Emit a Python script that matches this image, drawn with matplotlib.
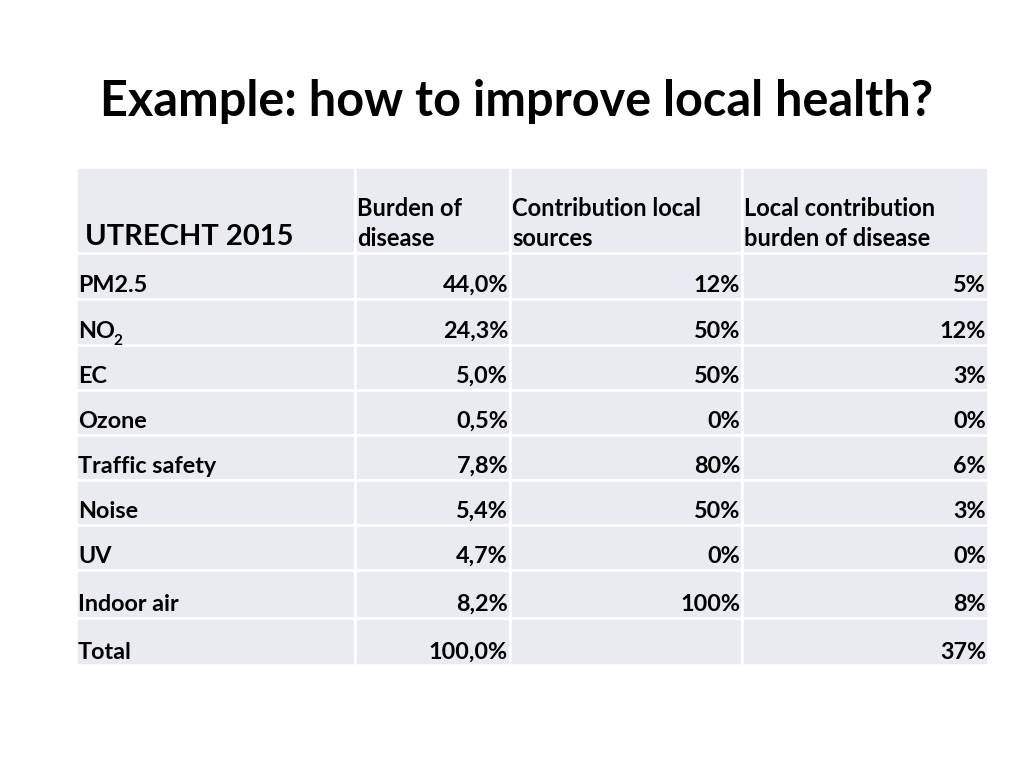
import matplotlib
matplotlib.use("Agg")
import matplotlib.pyplot as plt
from matplotlib.patches import Rectangle

plt.rcParams['font.family'] = ['Lato', 'DejaVu Sans']

title = "Example: how to improve local health?"
corner_label = "UTRECHT 2015"
headers = [("Burden of", "disease"), ("Contribution local", "sources"), ("Local contribution", "burden of disease")]
rows = ["PM2.5", "NO", "EC", "Ozone", "Traffic safety", "Noise", "UV", "Indoor air", "Total"]
burden = ["44,0%", "24,3%", "5,0%", "0,5%", "7,8%", "5,4%", "4,7%", "8,2%", "100,0%"]
local_src = ["12%", "50%", "50%", "0%", "80%", "50%", "0%", "100%", ""]
local_burden = ["5%", "12%", "3%", "0%", "6%", "3%", "0%", "8%", "37%"]

# layout in pixel coordinates
col_edges = [76, 355, 510, 742, 988]
row_edges = [167, 253, 299, 345, 390, 435, 480, 525, 570, 618, 665]
cell_color = "#E9EBF1"

fig = plt.figure(figsize=(10.24, 7.68), dpi=100)
ax = fig.add_axes([0, 0, 1, 1])
ax.set_xlim(0, 1024)
ax.set_ylim(768, 0)
ax.axis('off')

for i in range(len(row_edges) - 1):
    for j in range(len(col_edges) - 1):
        ax.add_patch(Rectangle((col_edges[j], row_edges[i]),
                               col_edges[j + 1] - col_edges[j],
                               row_edges[i + 1] - row_edges[i],
                               facecolor=cell_color, edgecolor='white', linewidth=1.8))

ax.text(100, 116, title, fontsize=35, fontweight='bold', va='baseline', ha='left', color='black')

ax.text(85, 245, corner_label, fontsize=21, fontweight='bold', va='baseline', ha='left')
for j, (l1, l2) in enumerate(headers):
    ax.text(col_edges[j + 1] + 2, 216, l1, fontsize=17, fontweight='bold', va='baseline', ha='left')
    ax.text(col_edges[j + 1] + 2, 246, l2, fontsize=17, fontweight='bold', va='baseline', ha='left')

baselines = [292, 338, 383, 428, 473, 518, 563, 611, 659]
for i, name in enumerate(rows):
    y = baselines[i]
    ax.text(78, y, name, fontsize=16.8, fontweight='bold', va='baseline', ha='left')
    if name == "NO":
        ax.text(113, y + 7, "2", fontsize=11, fontweight='bold', va='baseline', ha='left')
    for j, vals in enumerate([burden, local_src, local_burden]):
        ax.text(col_edges[j + 2] - 2, y, vals[i], fontsize=16.8, fontweight='bold',
                va='baseline', ha='right')

fig.savefig("out.png", dpi=100, facecolor='white')
